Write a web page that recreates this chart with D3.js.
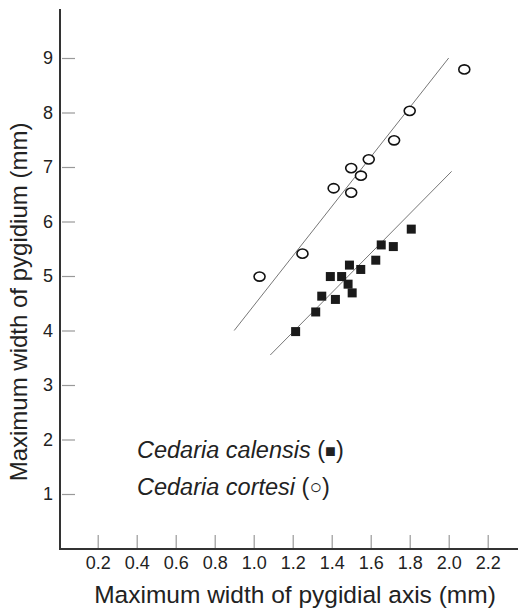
<!DOCTYPE html>
<html>
<head>
<meta charset="utf-8">
<script src="https://cdn.jsdelivr.net/npm/d3@7"></script>
<style>
  body { margin: 0; background: #fff; }
  text { font-family: "Liberation Sans", Arial, sans-serif; fill: #222; }
</style>
</head>
<body>
<div id="chart"></div>
<script>
// Data
const cortesiX = [1.03, 1.25, 1.41, 1.50, 1.50, 1.55, 1.59, 1.72, 1.80, 2.08];
const cortesiY = [4.99, 5.41, 6.61, 6.53, 6.98, 6.84, 7.14, 7.49, 8.03, 8.79];

const calensisX = [1.215, 1.318, 1.349, 1.393, 1.419, 1.451, 1.484, 1.491, 1.505, 1.549, 1.626, 1.654, 1.716, 1.808];
const calensisY = [3.98, 4.34, 4.63, 4.99, 4.57, 4.99, 4.85, 5.20, 4.69, 5.12, 5.29, 5.57, 5.54, 5.86];

// regression lines (end points)
const cortesiFit = [[0.90, 4.0], [2.0, 9.0]];
const calensisFit = [[1.085, 3.55], [2.015, 6.92]];

const xTicks = [0.2, 0.4, 0.6, 0.8, 1.0, 1.2, 1.4, 1.6, 1.8, 2.0, 2.2];
const yTicks = [1, 2, 3, 4, 5, 6, 7, 8, 9];

const width = 518, height = 610;

const svg = d3.select("#chart").append("svg")
  .attr("width", width)
  .attr("height", height);

const x = d3.scaleLinear().domain([0, 2.2]).range([58.7, 487.7]);
const y = d3.scaleLinear().domain([0, 9]).range([548.5, 58]);

// Axes
const yAxis = d3.axisLeft(y)
  .tickValues(yTicks)
  .tickFormat(d3.format("d"))
  .tickSizeInner(-15)
  .tickSizeOuter(0)
  .tickPadding(7);

const gy = svg.append("g")
  .attr("transform", "translate(60,0)")
  .call(yAxis);
gy.select(".domain").remove();
gy.selectAll(".tick line").attr("stroke", "#999").attr("stroke-width", 1.2).attr("x1", 2);
gy.selectAll(".tick text").attr("font-size", 18).attr("fill", "#222");

const xAxis = d3.axisBottom(x)
  .tickValues(xTicks)
  .tickFormat(d3.format(".1f"))
  .tickSizeInner(-14)
  .tickSizeOuter(0)
  .tickPadding(7);

const gx = svg.append("g")
  .attr("transform", "translate(0,549)")
  .call(xAxis);
gx.select(".domain").remove();
gx.selectAll(".tick line").attr("stroke", "#999").attr("stroke-width", 1.2).attr("y1", -1);
gx.selectAll(".tick text").attr("font-size", 18).attr("fill", "#222");

// axis lines
svg.append("line")
  .attr("x1", 60).attr("x2", 60).attr("y1", 9).attr("y2", 549)
  .attr("stroke", "#333").attr("stroke-width", 2);
svg.append("line")
  .attr("x1", 59).attr("x2", 518).attr("y1", 549).attr("y2", 549)
  .attr("stroke", "#333").attr("stroke-width", 2);

// titles
svg.append("text")
  .attr("x", 295).attr("y", 603)
  .attr("text-anchor", "middle")
  .attr("font-size", 24.5)
  .text("Maximum width of pygidial axis (mm)");

svg.append("text")
  .attr("transform", "translate(27,302) rotate(-90)")
  .attr("text-anchor", "middle")
  .attr("font-size", 24)
  .text("Maximum width of pygidium (mm)");

// fit lines
const line = d3.line().x(d => x(d[0])).y(d => y(d[1]));
[cortesiFit, calensisFit].forEach(f => {
  svg.append("path")
    .attr("d", line(f))
    .attr("fill", "none")
    .attr("stroke", "#777")
    .attr("stroke-width", 1);
});

// squares
const sq = 9;
svg.append("g")
  .selectAll("rect")
  .data(calensisX.map((v, i) => [v, calensisY[i]]))
  .enter()
  .append("rect")
  .attr("x", d => x(d[0]) - sq / 2)
  .attr("y", d => y(d[1]) - sq / 2)
  .attr("width", sq)
  .attr("height", sq)
  .attr("fill", "#1a1a1a");

// open circles
svg.append("g")
  .selectAll("ellipse")
  .data(cortesiX.map((v, i) => [v, cortesiY[i]]))
  .enter()
  .append("ellipse")
  .attr("cx", d => x(d[0]))
  .attr("cy", d => y(d[1]))
  .attr("rx", 5.5)
  .attr("ry", 4.6)
  .attr("fill", "#fff")
  .attr("stroke", "#111")
  .attr("stroke-width", 1.6);

// legend
const legend = [
  {name: "Cedaria calensis", sym: "\u25A0", size: 18, y: 458},
  {name: "Cedaria cortesi", sym: "\u25CB", size: 21, y: 495}
];
legend.forEach(l => {
  const t = svg.append("text")
    .attr("x", 137).attr("y", l.y)
    .attr("font-size", 23.5);
  t.append("tspan").attr("font-style", "italic").text(l.name);
  t.append("tspan").text(" (");
  t.append("tspan").attr("font-size", l.size).attr("dy", -1.5).text(l.sym);
  t.append("tspan").attr("dy", 1.5).text(")");
});
</script>
</body>
</html>
